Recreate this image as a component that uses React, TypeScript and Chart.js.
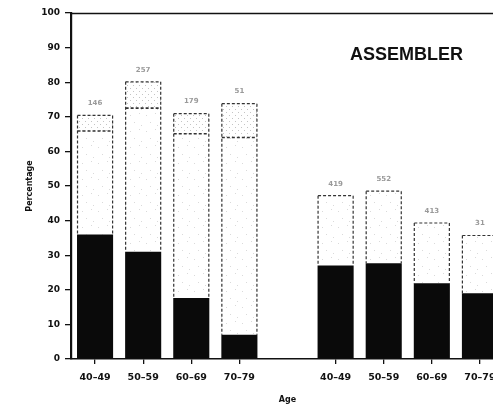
import { useEffect, useRef } from 'react';
import { Chart, registerables } from 'chart.js';

Chart.register(...registerables);

const categories = ['40–49', '50–59', '60–69', '70–79', '', '40–49', '50–59', '60–69', '70–79'];
const blackShare: (number | null)[] = [36, 31, 17.6, 7, null, 27, 27.7, 21.9, 19];
const dottedShare: (number | null)[] = [29.9, 41.5, 47.5, 57, null, 20.2, 20.8, 17.4, 16.7];
const upperShare: (number | null)[] = [4.5, 7.6, 5.8, 9.8, null, null, null, null, null];
const sampleSizes = ['146', '257', '179', '51', '', '419', '552', '413', '31'];
const yMin = 0;
const yMax = 100;
const yStep = 10;
const chartTitle = 'ASSEMBLER';
const xTitle = 'Age';
const yTitle = 'Percentage';

function makePattern(size: number, dots: [number, number][], color: string) {
  const c = document.createElement('canvas');
  c.width = size;
  c.height = size;
  const g = c.getContext('2d')!;
  g.fillStyle = '#ffffff';
  g.fillRect(0, 0, size, size);
  g.fillStyle = color;
  dots.forEach(([x, y]) => g.fillRect(x, y, 1, 1));
  return g.createPattern(c, 'repeat')!;
}

const overlayPlugin = {
  id: 'overlay',
  afterDatasetsDraw(chart: any) {
    const ctx = chart.ctx as CanvasRenderingContext2D;
    const { left, right, top, bottom } = chart.chartArea;
    const m0 = chart.getDatasetMeta(0);
    const m1 = chart.getDatasetMeta(1);
    const m2 = chart.getDatasetMeta(2);
    ctx.save();
    const seg = (x0: number, y0: number, x1: number, y1: number) => {
      ctx.beginPath();
      ctx.moveTo(x0, y0);
      ctx.lineTo(x1, y1);
      ctx.stroke();
    };
    categories.forEach((_, i) => {
      if (blackShare[i] == null) return;
      const b = m0.data[i].getProps(['x', 'y', 'width'], true);
      const mid = m1.data[i].getProps(['y'], true);
      const hasUpper = upperShare[i] != null;
      const topY = hasUpper ? m2.data[i].getProps(['y'], true).y : mid.y;
      const x0 = b.x - b.width / 2 + 0.5;
      const x1 = b.x + b.width / 2 - 0.5;
      ctx.strokeStyle = '#333';
      ctx.lineWidth = 1.2;
      ctx.setLineDash([3, 2]);
      seg(x0, topY, x0, b.y);
      seg(x1, topY, x1, b.y);
      seg(x0, topY, x1, topY);
      if (hasUpper) {
        ctx.lineWidth = 1.6;
        seg(x0, mid.y, x1, mid.y);
      }
      ctx.setLineDash([]);
      ctx.fillStyle = '#9a9a9a';
      ctx.font = 'bold 7px "DejaVu Sans"';
      ctx.textAlign = 'center';
      ctx.textBaseline = 'middle';
      ctx.fillText(sampleSizes[i], b.x, topY - 12);
    });
    // top frame line
    ctx.strokeStyle = '#111';
    ctx.lineWidth = 1.6;
    seg(left, top + 0.5, right, top + 0.5);
    // panel title
    ctx.fillStyle = '#111';
    ctx.font = 'bold 18px "Liberation Sans"';
    ctx.textAlign = 'center';
    ctx.textBaseline = 'middle';
    ctx.fillText(chartTitle, left + (right - left) * 0.775, top + (bottom - top) * 0.122);
    ctx.restore();
  },
};

export default function App() {
  const ref = useRef<HTMLCanvasElement | null>(null);

  useEffect(() => {
    if (!ref.current) return;
    const sparse = makePattern(16, [[2, 3], [11, 1], [6, 10], [13, 13]], '#dadada');
    const dense = makePattern(6, [[1, 1], [4, 4]], '#c4c4c4');
    const chart = new Chart(ref.current, {
      type: 'bar',
      data: {
        labels: categories,
        datasets: [
          { label: 'black', data: blackShare, backgroundColor: '#0a0a0a', borderWidth: 0 },
          { label: 'dotted', data: dottedShare, backgroundColor: sparse as any, borderWidth: 0 },
          { label: 'upper', data: upperShare, backgroundColor: dense as any, borderWidth: 0 },
        ],
      },
      options: {
        animation: false,
        responsive: true,
        maintainAspectRatio: false,
        layout: { padding: { top: 13, right: 0, bottom: 0, left: 0 } },
        datasets: { bar: { categoryPercentage: 1, barPercentage: 0.75 } },
        plugins: { legend: { display: false }, tooltip: { enabled: false }, title: { display: false } },
        scales: {
          x: {
            stacked: true,
            offset: true,
            afterFit: (s: any) => { s.height = 49; },
            grid: {
              offset: false,
              drawOnChartArea: false,
              drawTicks: true,
              tickLength: 5,
              tickColor: (c: any) => (categories[c.index] === '' ? 'rgba(0,0,0,0)' : '#111'),
              lineWidth: 1.3,
            },
            border: { display: true, color: '#111', width: 1.6 },
            ticks: {
              color: '#111',
              font: { family: '"DejaVu Sans"', size: 9.5, weight: 'bold' },
              padding: 8,
              maxRotation: 0,
              autoSkip: false,
            },
            title: {
              display: true,
              text: xTitle,
              color: '#111',
              font: { family: '"DejaVu Sans"', size: 8, weight: 'bold' },
              padding: { top: 0, bottom: 3 },
            },
          },
          y: {
            stacked: true,
            min: yMin,
            max: yMax,
            afterFit: (s: any) => { s.width = 71; },
            grid: {
              drawOnChartArea: false,
              drawTicks: true,
              tickLength: 6,
              color: '#111',
              lineWidth: 1.3,
            },
            border: { display: true, color: '#111', width: 2.2 },
            ticks: {
              stepSize: yStep,
              color: '#111',
              font: { family: '"DejaVu Sans"', size: 9, weight: 'bold' },
              padding: 5,
            },
            title: {
              display: true,
              text: yTitle,
              color: '#111',
              font: { family: '"DejaVu Sans"', size: 8, weight: 'bold' },
              padding: { top: 25, bottom: 0 },
            },
          },
        },
      },
      plugins: [overlayPlugin],
    });
    return () => chart.destroy();
  }, []);

  return (
    <div style={{ position: 'fixed', left: 0, top: 0, width: '100vw', height: '100vh', overflow: 'hidden', background: '#fff' }}>
      <div style={{ position: 'absolute', left: 0, top: 0, width: 504, height: 408 }}>
        <canvas ref={ref} />
      </div>
    </div>
  );
}
